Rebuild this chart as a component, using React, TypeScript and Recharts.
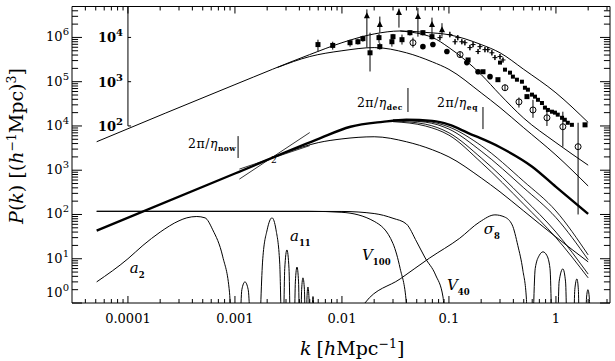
import React from "react";
import {
  ComposedChart,
  Line,
  Scatter,
  XAxis,
  YAxis,
  ErrorBar,
  ReferenceLine,
  ReferenceDot,
} from "recharts";

type Pt = [number, number];
type Obs = [number, number, number, number]; // k, P, low, high

// ---- axes ----
const X_MIN = 3.0e-5;
const X_MAX = 3.2;
const Y_MIN = 1;
const Y_MAX = 5.0e6;
const xMajor = [1e-4, 1e-3, 1e-2, 1e-1, 1];
const xMinor = [
  4e-5, 5e-5, 6e-5, 7e-5, 8e-5, 9e-5,
  2e-4, 3e-4, 4e-4, 5e-4, 6e-4, 7e-4, 8e-4, 9e-4,
  2e-3, 3e-3, 4e-3, 5e-3, 6e-3, 7e-3, 8e-3, 9e-3,
  0.02, 0.03, 0.04, 0.05, 0.06, 0.07, 0.08, 0.09,
  0.2, 0.3, 0.4, 0.5, 0.6, 0.7, 0.8, 0.9,
  2, 3,
];
const yMajor = [1, 10, 100, 1e3, 1e4, 1e5, 1e6];
const yMinor = [
  2, 3, 4, 5, 6, 7, 8, 9,
  20, 30, 40, 50, 60, 70, 80, 90,
  200, 300, 400, 500, 600, 700, 800, 900,
  2e3, 3e3, 4e3, 5e3, 6e3, 7e3, 8e3, 9e3,
  2e4, 3e4, 4e4, 5e4, 6e4, 7e4, 8e4, 9e4,
  2e5, 3e5, 4e5, 5e5, 6e5, 7e5, 8e5, 9e5,
  2e6, 3e6, 4e6,
];
const insetTicks = [1e4, 1e5, 1e6];
const insetExp = ["2", "3", "4"];

// ---- upper set: data-compared spectra (x100) ----
const upperNonlin: Pt[] = [
  [5.1e-5, 4.4e3], [1e-3, 8.6e4], [5e-3, 4.1e5], [0.01, 7.6e5], [0.02, 1.2e6],
  [0.035, 1.4e6], [0.06, 1.3e6], [0.1, 1.15e6], [0.2, 6.9e5], [0.3, 4.5e5],
  [0.5, 1.9e5], [1, 5.6e4], [2, 1.2e4],
];
const upperMid: Pt[] = [
  [0.035, 1.4e6], [0.07, 1.0e6], [0.1, 5.9e5], [0.2, 1.45e5], [0.3, 5.1e4],
  [0.5, 1.5e4], [1, 4.2e3], [2, 1.3e3],
];
const upperLin: Pt[] = [
  [2.5e-3, 2.1e5], [5e-3, 3.7e5], [0.01, 5e5], [0.02, 5.9e5], [0.04, 4.5e5],
  [0.07, 2.8e5], [0.1, 1.9e5], [0.2, 5.6e4], [0.3, 2.6e4], [0.5, 9.1e3],
  [1, 2.2e3], [2, 440],
];

// ---- middle set: fiducial and parameter variations ----
const fiducial: Pt[] = [
  [5.1e-5, 43], [1e-3, 843], [5.8e-3, 4.9e3], [0.012, 9.6e3], [0.024, 1.24e4],
  [0.04, 1.38e4], [0.07, 1.3e4], [0.1, 1.07e4], [0.15, 7.0e3], [0.3, 3.3e3],
  [0.6, 1.2e3], [1, 420], [2, 103],
];
const lowAmp: Pt[] = [
  [3e-3, 2.5e3], [6e-3, 4.2e3], [0.01, 5.1e3], [0.02, 5.7e3], [0.04, 4.4e3],
  [0.07, 2.9e3], [0.1, 2e3], [0.2, 670], [0.3, 325], [0.5, 120], [1, 31], [2, 8.5],
];
const fan1: Pt[] = [
  [0.03, 1.37e4], [0.06, 1.28e4], [0.1, 9.5e3], [0.2, 3.6e3], [0.5, 560], [1, 120], [2, 12.2],
];
const fan2: Pt[] = [
  [0.03, 1.35e4], [0.06, 1.22e4], [0.1, 8.5e3], [0.2, 2.7e3], [0.5, 400], [1, 85], [2, 9.5],
];
const fan3: Pt[] = [
  [0.03, 1.3e4], [0.06, 1.1e4], [0.1, 7e3], [0.2, 1.9e3], [0.5, 230], [1, 40], [2, 4.5],
];
const fan4: Pt[] = [
  [0.03, 1.25e4], [0.06, 1.0e4], [0.1, 6.2e3], [0.2, 1.5e3], [0.5, 170], [1, 30], [2, 3.7],
];
const tiltSteep: Pt[] = [[1.1e-3, 630], [5e-3, 7.1e3]];
const tiltFlat: Pt[] = [[1.1e-3, 1.06e3], [5e-3, 3.6e3]];

// ---- window functions ----
const winV100: Pt[] = [
  [5.1e-5, 118], [5e-3, 118], [0.01, 112], [0.02, 70], [0.03, 22], [0.035, 6],
  [0.04, 1], [0.043, 0.05],
];
const winV40: Pt[] = [
  [5.1e-5, 118], [0.01, 117], [0.02, 105], [0.03, 82], [0.04, 61], [0.05, 24],
  [0.06, 10.4], [0.075, 4.3], [0.088, 1.37], [0.095, 0.05],
];
const winA2: Pt[] = [
  [5.1e-5, 3.0], [1e-4, 10], [1.38e-4, 20], [2e-4, 40], [3e-4, 72], [3.55e-4, 84],
  [4.4e-4, 90], [5.25e-4, 84], [6.2e-4, 45], [7.7e-4, 11], [8.9e-4, 1.7], [9.6e-4, 0.05],
  [1.08e-3, 0.05], [1.16e-3, 2], [1.24e-3, 3.0], [1.33e-3, 2], [1.42e-3, 0.05],
];
const winA11: Pt[] = [
  [1.68e-3, 0.05], [1.82e-3, 10], [2.0e-3, 45], [2.22e-3, 84], [2.42e-3, 45], [2.62e-3, 8], [2.78e-3, 0.05],
  [2.8e-3, 0.05], [2.92e-3, 6], [3.06e-3, 15.8], [3.2e-3, 6], [3.34e-3, 0.05],
  [3.54e-3, 0.05], [3.67e-3, 3], [3.8e-3, 6.5], [3.93e-3, 3], [4.06e-3, 0.05],
  [4.08e-3, 0.05], [4.2e-3, 2], [4.32e-3, 3.7], [4.46e-3, 2], [4.6e-3, 0.05],
  [4.62e-3, 0.05], [4.71e-3, 1.3], [4.81e-3, 2.3], [4.92e-3, 1.3], [5.02e-3, 0.05],
  [5.1e-3, 0.05], [5.36e-3, 1.4], [5.6e-3, 0.05],
];
const winSigma8: Pt[] = [
  [0.012, 0.3], [0.0164, 1], [0.035, 3.5], [0.066, 10.4], [0.126, 29], [0.194, 68],
  [0.269, 98], [0.33, 88], [0.39, 58], [0.44, 20], [0.49, 5.6], [0.53, 1.2], [0.545, 0.05],
  [0.59, 0.05], [0.64, 6], [0.7, 12], [0.757, 14.3], [0.82, 12], [0.88, 6], [0.94, 0.05],
  [1.02, 0.05], [1.07, 3], [1.16, 5.9], [1.23, 3], [1.29, 0.05],
  [1.44, 0.05], [1.5, 2], [1.57, 3.5], [1.62, 2], [1.67, 0.05],
  [1.87, 0.05], [1.93, 1.3], [1.99, 2.0], [2.05, 1.3], [2.12, 0.05],
];

// ---- measurements ----
const squares: Obs[] = [
  [5.97e-3, 6.9e5, 4.8e5, 8.9e5], [8.2e-3, 6.6e5, 5.3e5, 8.0e5], [0.0119, 7.6e5, 6.2e5, 8.9e5],
  [0.0141, 8.0e5, 6.9e5, 9.4e5], [0.0157, 9.4e5, 8.0e5, 1.1e6], [0.0183, 4.5e5, 1.7e5, 1.28e6],
  [0.0222, 9.9e5, 7.6e5, 1.2e6], [0.0226, 6.2e5, 5.3e5, 7.6e5], [0.0293, 8.0e5, 6.2e5, 1.0e6],
  [0.03, 1.04e6, 9.0e5, 1.2e6], [0.0364, 8.9e5, 6.9e5, 1.16e6], [0.0432, 1.28e6, 1.1e6, 1.45e6],
  [0.0571, 1.28e6, 1.1e6, 1.45e6], [0.0694, 1.04e6, 9e5, 1.2e6], [0.151, 3.1e5, 3.1e5, 3.1e5],
  [0.208, 1.68e5, 1.68e5, 1.68e5], [0.287, 1.11e5, 1.11e5, 1.11e5], [0.536, 4.6e4, 4.6e4, 4.6e4],
  [1.87, 1.06e4, 1.06e4, 1.06e4],
];
const triangles: Obs[] = [
  [0.0171, 3.11e6, 5.9e5, 4.3e6], [0.0226, 1.95e6, 1.28e6, 2.96e6], [0.0341, 3.64e6, 1.67e6, 4.5e6],
  [0.0513, 2.96e6, 1.04e6, 4.6e6], [0.0694, 1.95e6, 1.16e6, 2.8e6], [0.0861, 1.5e6, 1.04e6, 2.1e6],
];
const rings: Obs[] = [
  [0.0461, 7.6e5, 5.9e5, 9.9e5], [0.127, 4.1e5, 3.5e5, 4.8e5], [0.334, 7.3e4, 6.2e4, 8.6e4],
  [0.451, 3.5e4, 2.6e4, 4.4e4], [0.61, 2.3e4, 1.53e4, 3.9e4], [0.824, 1.53e4, 1.0e4, 2.2e4],
  [1.16, 9.6e3, 3.4e3, 2.1e4], [1.61, 3.4e3, 100, 1.18e4],
];
const dots: Obs[] = [
  [0.0571, 6.2e5, 6.2e5, 6.2e5], [0.0708, 6.9e5, 6.9e5, 6.9e5], [0.0957, 4.8e5, 4.8e5, 4.8e5],
  [0.147, 2.7e5, 2.7e5, 2.7e5], [0.187, 1.68e5, 1.68e5, 1.68e5], [0.242, 1.3e5, 1.3e5, 1.3e5],
];
const crosses: Obs[] = [
  [0.0824, 9.9e5, 8.5e5, 1.15e6], [0.102, 1.16e6, 1.0e6, 1.35e6], [0.114, 8.0e5, 6.9e5, 9.2e5],
  [0.121, 9.9e5, 8.6e5, 1.13e6], [0.132, 8.0e5, 7.0e5, 9.1e5], [0.141, 7.6e5, 6.6e5, 8.7e5],
  [0.157, 5.9e5, 5.1e5, 6.8e5], [0.168, 6.9e5, 6.0e5, 7.9e5], [0.187, 4.8e5, 4.2e5, 5.5e5],
  [0.195, 6.2e5, 5.4e5, 7.1e5], [0.217, 5.3e5, 4.6e5, 6.1e5], [0.231, 5.3e5, 4.6e5, 6.1e5],
  [0.252, 4.5e5, 3.9e5, 5.2e5], [0.269, 3.5e5, 3.1e5, 4.0e5], [0.3, 3.7e5, 3.2e5, 4.2e5],
  [0.32, 3.1e5, 2.7e5, 3.5e5],
];
const band: Obs[] = [
  [0.3, 2.7e5, 2.7e5, 2.7e5], [0.334, 1.87e5, 1.87e5, 1.87e5], [0.372, 1.6e5, 1.6e5, 1.6e5],
  [0.396, 1.3e5, 1.3e5, 1.3e5], [0.432, 1.11e5, 1.11e5, 1.11e5], [0.481, 1.0e5, 1.0e5, 1.0e5],
  [0.513, 7.3e4, 7.3e4, 7.3e4], [0.547, 6.6e4, 6.6e4, 6.6e4], [0.597, 5.1e4, 5.1e4, 5.1e4],
  [0.637, 4.6e4, 4.6e4, 4.6e4], [0.679, 3.9e4, 3.9e4, 3.9e4], [0.74, 3.3e4, 3.3e4, 3.3e4],
  [0.789, 2.6e4, 2.6e4, 2.6e4], [0.841, 2.3e4, 2.3e4, 2.3e4], [0.918, 2.1e4, 2.1e4, 2.1e4],
  [0.979, 2.0e4, 2.0e4, 2.0e4], [1.04, 1.8e4, 1.8e4, 1.8e4], [1.14, 1.53e4, 1.53e4, 1.53e4],
  [1.21, 1.38e4, 1.38e4, 1.38e4], [1.29, 1.18e4, 1.18e4, 1.18e4], [1.41, 1.06e4, 1.06e4, 1.06e4],
];

const curve = (pts: Pt[]) => pts.map(([k, p]) => ({ k, p }));
const obs = (pts: Obs[]) => pts.map(([k, p, lo, hi]) => ({ k, p, err: [p - lo, hi - p] }));

const SERIF = "'DejaVu Serif', 'Liberation Serif', serif";
const INK = "#000";

// inward tick lengths expressed as multiplicative steps on the log axes
// (107 px per decade in k, 44.26 px per decade in P)
const X_MAJOR_LEN = 1.44; // ~7px up
const X_MINOR_LEN = 1.23; // ~4px up
const Y_MAJOR_LEN = 1.24; // ~10px across
const Y_MINOR_LEN = 1.14; // ~6px across

const XTick = ({ x, y, payload }: any) => (
  <text x={x} y={y + 20} textAnchor="middle" fontFamily={SERIF} fontSize={13} fill={INK}>
    {String(payload.value)}
  </text>
);

const YTick = ({ x, y, payload }: any) => {
  const e = Math.round(Math.log10(payload.value));
  const dy = e === 0 ? -6 : 4;
  return (
    <text x={x - 3} y={y + dy} textAnchor="end" fontFamily={SERIF} fontSize={13} fill={INK}>
      10
      <tspan dy={-6} fontSize={10}>{e}</tspan>
    </text>
  );
};

const SquareMark = (p: any) => <rect x={p.cx - 2.5} y={p.cy - 2.5} width={5} height={5} fill={INK} />;
const BandMark = (p: any) => <rect x={p.cx - 2} y={p.cy - 2} width={4} height={4} fill={INK} />;
const TriMark = (p: any) => (
  <path d={`M${p.cx},${p.cy - 3.5}L${p.cx + 3},${p.cy + 2.5}L${p.cx - 3},${p.cy + 2.5}Z`} fill={INK} />
);
const RingMark = (p: any) => <circle cx={p.cx} cy={p.cy} r={3} fill="none" stroke={INK} strokeWidth={1} />;
const DotMark = (p: any) => <circle cx={p.cx} cy={p.cy} r={2.8} fill={INK} />;
const CrossMark = (p: any) => (
  <path d={`M${p.cx - 2.5},${p.cy}H${p.cx + 2.5}M${p.cx},${p.cy - 2.5}V${p.cy + 2.5}`} stroke={INK} strokeWidth={1} />
);

const seg = (key: string, x1: number, y1: number, x2: number, y2: number) => (
  <ReferenceLine
    key={key}
    xAxisId="x"
    yAxisId="y"
    segment={[{ x: x1, y: y1 }, { x: x2, y: y2 }]}
    stroke={INK}
    strokeWidth={1}
    ifOverflow="visible"
  />
);

const note = (key: string, k: number, p: number, render: (x: number, y: number) => React.ReactNode) => (
  <ReferenceDot
    key={key}
    xAxisId="x"
    yAxisId="y"
    x={k}
    y={p}
    r={0}
    fill="none"
    stroke="none"
    ifOverflow="visible"
    label={(lp: any) => render(lp.viewBox.x, lp.viewBox.y) as any}
  />
);

const etaNote = (x: number, y: number, sub: string) => (
  <text x={x} y={y} fontFamily={SERIF} fontSize={12.5} fill={INK} letterSpacing={0.5}>
    2π/<tspan fontStyle="italic">η</tspan>
    <tspan dy={3} fontSize={7.5} fontWeight="bold">{sub}</tspan>
  </text>
);

const winNote = (x: number, y: number, main: string, sub: string) => (
  <text x={x} y={y} fontFamily={SERIF} fontSize={15} fill={INK} fontStyle="italic">
    {main}
    <tspan dy={5} fontSize={8.5} fontStyle="normal" fontWeight="bold">{sub}</tspan>
  </text>
);

const lines: { id: string; pts: Pt[]; w: number; type?: "linear" }[] = [
  { id: "upperNonlin", pts: upperNonlin, w: 1 },
  { id: "upperMid", pts: upperMid, w: 1 },
  { id: "upperLin", pts: upperLin, w: 1 },
  { id: "lowAmp", pts: lowAmp, w: 1 },
  { id: "fan1", pts: fan1, w: 0.9 },
  { id: "fan2", pts: fan2, w: 0.9 },
  { id: "fan3", pts: fan3, w: 0.9 },
  { id: "fan4", pts: fan4, w: 0.9 },
  { id: "fiducial", pts: fiducial, w: 2.4 },
  { id: "tiltSteep", pts: tiltSteep, w: 0.8, type: "linear" },
  { id: "tiltFlat", pts: tiltFlat, w: 0.8, type: "linear" },
  { id: "winV100", pts: winV100, w: 1 },
  { id: "winV40", pts: winV40, w: 1 },
  { id: "winA2", pts: winA2, w: 1 },
  { id: "winA11", pts: winA11, w: 1 },
  { id: "winSigma8", pts: winSigma8, w: 1 },
];

const marks = [
  { id: "squares", pts: squares, shape: SquareMark },
  { id: "triangles", pts: triangles, shape: TriMark },
  { id: "rings", pts: rings, shape: RingMark },
  { id: "dots", pts: dots, shape: DotMark },
  { id: "crosses", pts: crosses, shape: CrossMark },
  { id: "band", pts: band, shape: BandMark },
];

export default function App() {
  return (
    <div style={{ position: "absolute", left: 0, top: 0, background: "#fff" }}>
      <ComposedChart width={615} height={361} margin={{ top: 6.5, right: 5, bottom: 0, left: 0 }}>
        <XAxis xAxisId="x" dataKey="k" type="number" scale="log" domain={[X_MIN, X_MAX]} allowDataOverflow
          ticks={xMajor} interval={0} height={58} axisLine={false} tickLine={false} tickSize={0} tickMargin={0}
          tick={XTick} />
        <YAxis yAxisId="y" dataKey="p" type="number" scale="log" domain={[Y_MIN, Y_MAX]} allowDataOverflow
          ticks={yMajor} interval={0} width={72} axisLine={false} tickLine={false} tickSize={0} tickMargin={0}
          tick={YTick} />

        {lines.map((c) => (
          <Line
            key={c.id}
            xAxisId="x"
            yAxisId="y"
            data={curve(c.pts)}
            dataKey="p"
            type={c.type ?? "monotone"}
            stroke={INK}
            strokeWidth={c.w}
            dot={false}
            activeDot={false}
            isAnimationActive={false}
          />
        ))}

        {marks.map((m) => (
          <Scatter
            key={m.id}
            xAxisId="x"
            yAxisId="y"
            data={obs(m.pts)}
            dataKey="p"
            shape={m.shape}
            isAnimationActive={false}
          >
            <ErrorBar dataKey="err" direction="y" width={0} stroke={INK} strokeWidth={1} />
          </Scatter>
        ))}

        {/* frame */}
        {seg("fb", X_MIN, Y_MIN, X_MAX, Y_MIN)}
        {seg("ft", X_MIN, Y_MAX, X_MAX, Y_MAX)}
        {seg("fl", X_MIN, Y_MIN, X_MIN, Y_MAX)}
        {seg("fr", X_MAX, Y_MIN, X_MAX, Y_MAX)}

        {/* inward ticks on all four sides */}
        {xMajor.map((t) => seg(`xb${t}`, t, Y_MIN, t, Y_MIN * X_MAJOR_LEN))}
        {xMajor.map((t) => seg(`xt${t}`, t, Y_MAX, t, Y_MAX / X_MAJOR_LEN))}
        {xMinor.map((t) => seg(`xbm${t}`, t, Y_MIN, t, Y_MIN * X_MINOR_LEN))}
        {xMinor.map((t) => seg(`xtm${t}`, t, Y_MAX, t, Y_MAX / X_MINOR_LEN))}
        {yMajor.map((t) => seg(`yl${t}`, X_MIN, t, X_MIN * Y_MAJOR_LEN, t))}
        {yMajor.map((t) => seg(`yr${t}`, X_MAX, t, X_MAX / Y_MAJOR_LEN, t))}
        {yMinor.map((t) => seg(`ylm${t}`, X_MIN, t, X_MIN * Y_MINOR_LEN, t))}
        {yMinor.map((t) => seg(`yrm${t}`, X_MAX, t, X_MAX / Y_MINOR_LEN, t))}

        {/* inset axis for the upper spectra */}
        {seg("inset", 1e-4, 1e4, 1e-4, Y_MAX)}
        {insetTicks.map((t) => seg(`it${t}`, 1e-4, t, 1.07e-4, t))}
        {insetTicks.map((t, i) =>
          note(`il${t}`, 1e-4, t, (x, y) => (
            <text x={x - 5} y={y + 5} textAnchor="end" fontFamily={SERIF} fontSize={13} fontWeight="bold" fill={INK}>
              10
              <tspan dy={-6} fontSize={10}>{insetExp[i]}</tspan>
            </text>
          ))
        )}

        {/* horizon scale markers */}
        {seg("bdec", 0.0414, 2.07e4, 0.0414, 7.2e4)}
        {seg("beq", 0.208, 8.5e3, 0.208, 2.68e4)}
        {seg("bnow", 1.07e-3, 1.89e3, 1.07e-3, 5.9e3)}
        {note("dec", 0.0138, 2.68e4, (x, y) => etaNote(x, y, "dec"))}
        {note("eq", 0.0773, 2.68e4, (x, y) => etaNote(x, y, "eq"))}
        {note("now", 3.64e-4, 3.18e3, (x, y) => etaNote(x, y, "now"))}

        {/* window labels */}
        {note("a2", 1.04e-4, 4.76, (x, y) => winNote(x, y, "a", "2"))}
        {note("a11", 3.27e-3, 25.2, (x, y) => winNote(x, y, "a", "11"))}
        {note("v100", 0.0154, 9.4, (x, y) => winNote(x, y, "V", "100"))}
        {note("v40", 0.0957, 1.97, (x, y) => winNote(x, y, "V", "40"))}
        {note("s8", 0.212, 36, (x, y) => winNote(x, y, "σ", "8"))}
        {note("two", 2.17e-3, 1.46e3, (x, y) => (
          <text x={x} y={y} fontFamily={SERIF} fontSize={9} fill={INK}>2</text>
        ))}

        {/* axis titles */}
        <text x={300} y={355} fontFamily={SERIF} fontSize={19} fill={INK}>
          <tspan fontStyle="italic">k</tspan>
          <tspan dx={5}>[</tspan>
          <tspan fontStyle="italic">h</tspan>
          <tspan>Mpc</tspan>
          <tspan dy={-7} fontSize={12.5}>−1</tspan>
          <tspan dy={7}>]</tspan>
        </text>
        <text x={23} y={146} transform="rotate(-90 23 146)" textAnchor="middle" fontFamily={SERIF} fontSize={19} fill={INK}>
          <tspan fontStyle="italic">P</tspan>
          <tspan>(</tspan>
          <tspan fontStyle="italic">k</tspan>
          <tspan>) [(</tspan>
          <tspan fontStyle="italic">h</tspan>
          <tspan dy={-7} fontSize={12.5}>−1</tspan>
          <tspan dy={7}>Mpc)</tspan>
          <tspan dy={-7} fontSize={12.5}>3</tspan>
          <tspan dy={7}>]</tspan>
        </text>
      </ComposedChart>
    </div>
  );
}
